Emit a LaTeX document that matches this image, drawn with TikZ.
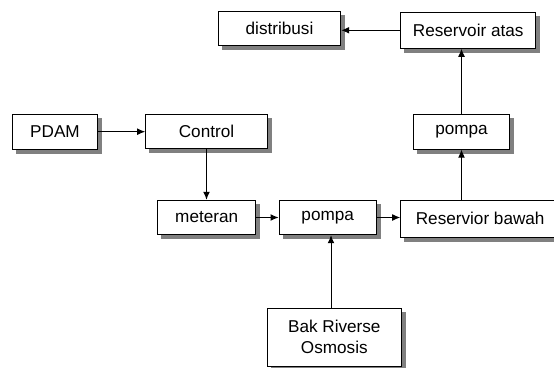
\documentclass[tikz,border=0pt]{standalone}
\usepackage{fontspec}
\setmainfont{Liberation Sans}
\usetikzlibrary{backgrounds,positioning,arrows.meta,calc}
\tikzset{
    blok/.style={draw, fill=white, line width=0.7pt, inner sep=2pt, align=center,
        font=\fontsize{12.2}{15}\selectfont},
    bayang/.style={fill=black!50, draw=none},
    panah/.style={-{Latex[length=2mm,width=1.7mm]}, line width=0.7pt}
}
\begin{document}
\begin{tikzpicture}[x=0.025cm, y=-0.025cm]
        \useasboundingbox (0,0) rectangle (554,368);
        % baris atas
        \node[blok, minimum width=3.06cm, minimum height=0.85cm] (distribusi) at (279.5,28.7) {distribusi};
        \node[blok, minimum width=3.375cm, minimum height=0.9cm] (ratas) at (468.2,30.3) {Reservoir atas};
        % baris tengah
        \node[blok, minimum width=2.135cm, minimum height=0.87cm] (pdam) at (55,131.7) {PDAM};
        \node[blok, minimum width=3.04cm, minimum height=0.85cm] (control) at (206.5,131.5) {Control};
        \node[blok, minimum width=2.4cm, minimum height=0.87cm] (pompaatas) at (461.5,131.7) {pompa};
        % baris bawah
        \node[blok, minimum width=2.45cm, minimum height=0.86cm] (meteran) at (206.7,217.5) {meteran};
        \node[blok, minimum width=2.43cm, minimum height=0.86cm] (pompa) at (327.7,217.5) {pompa};
        \node[blok, minimum width=3.975cm, minimum height=0.92cm] (rbawah) at (480.2,218.7) {Reservior bawah};
        \node[blok, minimum width=3.35cm, minimum height=1.45cm] (bak) at (334.3,337) {Bak Riverse\\Osmosis};
        % bayangan
        \begin{scope}[on background layer]
            \foreach \n in {distribusi,ratas,pdam,control,pompaatas,meteran,pompa,rbawah,bak}{
                \path[bayang] ($(\n.south west)+(3pt,-3pt)$) rectangle ($(\n.north east)+(3pt,-3pt)$);}
        \end{scope}
       \draw[panah] (pdam.east) -- (pdam.east -| control.west);
       \draw[panah] (control.south) -- (control.south |- meteran.north);
       \draw[panah] (meteran.east) -- (meteran.east -| pompa.west);
       \draw[panah] (pompa.east) -- (pompa.east -| rbawah.west);
       \coordinate (masuk) at ($(bak.north)!0.5!(bak.north -| pompa.south)$);
       \draw[panah] (masuk) -- (masuk |- pompa.south);
       \draw[panah] (pompaatas.south |- rbawah.north) -- (pompaatas.south);
       \draw[panah] (pompaatas.north) -- (pompaatas.north |- ratas.south);
       \draw[panah] (ratas.west) -- (ratas.west -| distribusi.east);
    \end{tikzpicture}
\end{document}
